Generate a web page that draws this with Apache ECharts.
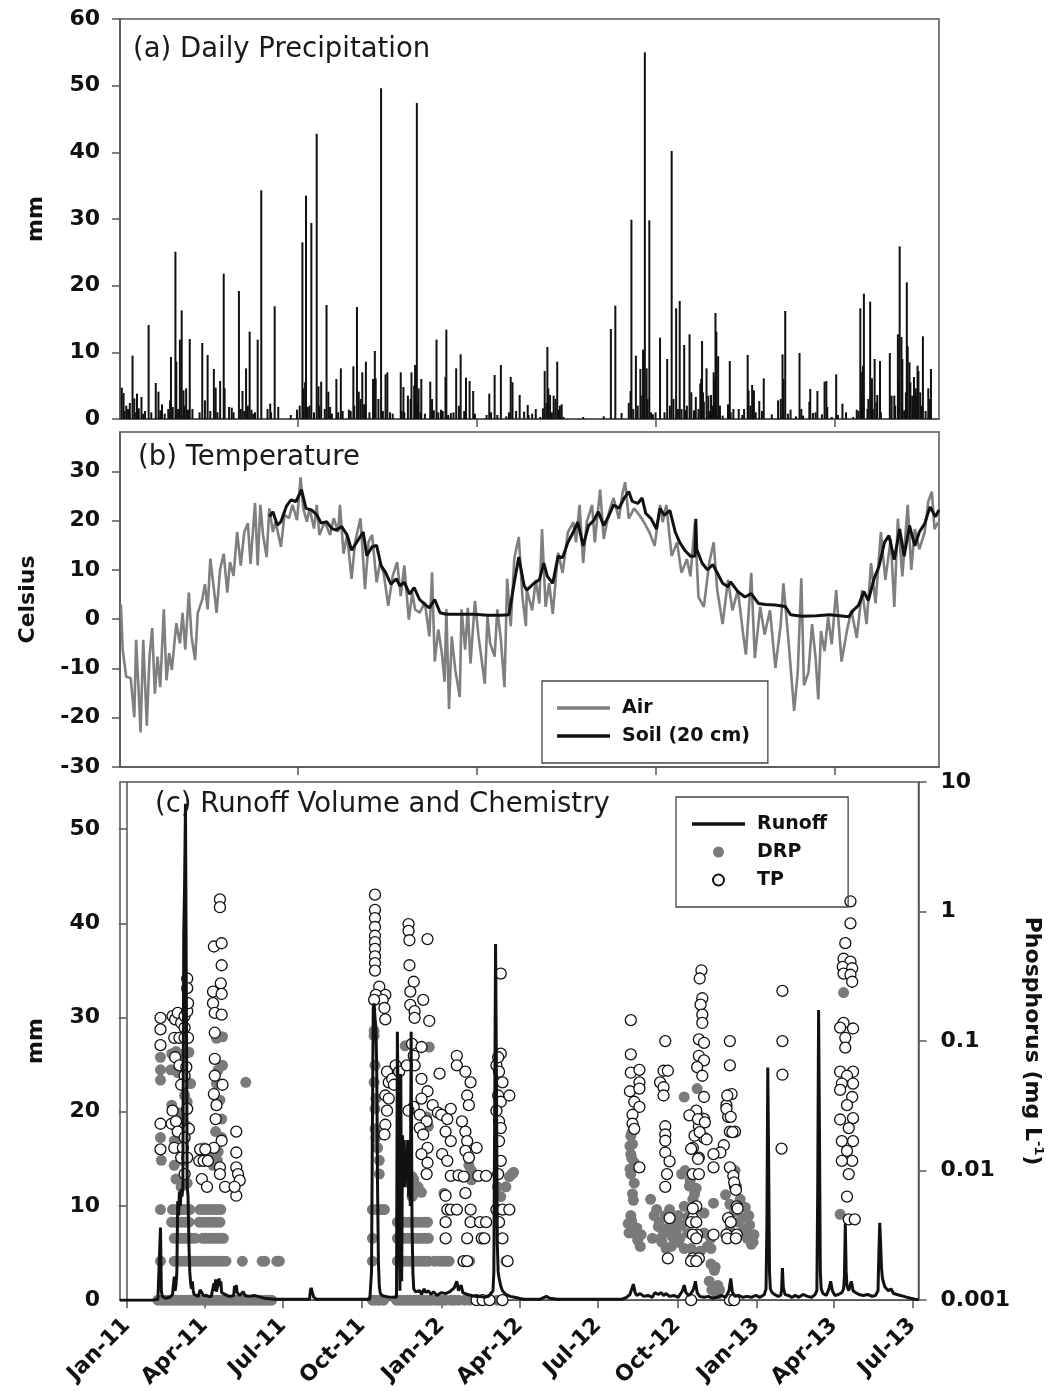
<!DOCTYPE html>
<html>
<head>
<meta charset="utf-8">
<script src="https://cdn.jsdelivr.net/npm/echarts@6/dist/echarts.min.js"></script>
<style>
  html, body { margin: 0; padding: 0; background: #fff; }
  #main { width: 1053px; height: 1391px; }
</style>
</head>
<body>
<div id="main"></div>
<script>
// day = days since 1 Jan 2011

// (a) daily precipitation, mm
var precipitation = [
  [3,4.7],[5,3.9],[15,9.5],[17,3.1],[20,3.8],[25,3.3],[33,14.1],[41,5.4],[44,4.1],[51,0.8],[58,9.3],[63,25.1],[64,8.6],
  [68,11.9],[70,16.3],[72,4.3],[75,4.6],[79,12.0],[82,1.5],[93,11.4],[99,9.6],[106,7.5],[108,4.7],[113,5.7],[117,21.8],
  [118,4.6],[123,1.8],[126,1.7],[134,19.2],[138,4.2],[142,7.6],[146,13.1],[148,1.4],[155,11.9],[159,34.3],[166,1.5],
  [169,2.3],[174,16.9],[178,1.8],[192,0.6],[199,1.4],[205,26.5],[206,4.6],[209,33.5],[211,1.8],[215,29.4],[221,42.8],
  [223,4.9],[226,5.6],[232,17.1],[234,4.1],[236,1.8],[243,6.0],[248,7.6],[257,1.4],[262,7.9],[266,16.8],[268,4.1],
  [272,7.0],[276,8.6],[286,10.2],[287,6.1],[293,49.6],[298,6.7],[300,7.0],[315,7.0],[318,4.8],[323,3.5],[327,7.0],
  [331,8.1],[333,47.4],[335,4.6],[338,6.0],[348,5.6],[350,3.0],[355,11.9],[360,1.4],[365,6.3],[366,13.4],[371,0.9],
  [377,7.6],[382,9.7],[388,6.2],[392,5.7],[396,4.2],[411,0.6],[414,3.8],[420,6.6],[427,8.1],[433,0.4],[438,6.3],
  [440,5.5],[448,3.6],[453,1.1],[457,2.1],[466,1.5],[471,0.3],[476,7.2],[479,10.8],[480,4.6],[482,3.6],[486,3.5],
  [488,3.0],[490,8.6],[493,2.0],[495,2.2],[497,0.3],[519,0.3],[542,0.4],[550,13.5],[555,17.0],[562,0.9],[570,2.4],
  [572,4.2],[573,29.9],[578,9.5],[583,7.5],[586,10.4],[588,55.0],[590,7.6],[593,29.8],[595,1.0],[597,0.7],[605,12.2],
  [613,9.0],[618,40.2],[623,16.6],[627,17.7],[629,1.5],[632,11.1],[634,1.3],[638,12.7],[643,1.3],[645,3.3],[650,5.3],
  [652,11.7],[654,2.6],[657,7.6],[659,3.5],[662,3.6],[664,2.0],[667,15.9],[668,13.1],[670,9.4],[675,0.5],[681,2.2],
  [683,8.7],[693,1.5],[699,1.5],[703,9.6],[704,4.3],[708,5.1],[710,4.3],[716,2.7],[721,6.1],[730,0.7],[737,2.8],
  [742,9.7],[745,16.2],[751,1.4],[757,0.4],[761,9.9],[763,1.5],[772,2.6],[773,4.5],[776,0.9],[781,4.2],[786,0.7],
  [789,5.6],[791,5.7],[797,0.3],[802,6.7],[809,2.3],[813,1.0],[821,0.3],[825,1.4],[829,16.6],[831,7.1],[833,18.8],
  [837,1.5],[838,3.0],[840,17.6],[842,6.1],[845,9.0],[848,3.6],[851,8.7],[862,9.9],[864,3.5],[867,3.5],[871,12.7],
  [873,25.9],[875,12.3],[878,1.3],[881,20.5],[882,10.9],[884,8.5],[889,6.3],[891,4.6],[893,8.0],[894,7.2],[896,4.0],
  [899,12.4],[905,4.6],[908,7.5],
  [6,1.2],[8,2.0],[10,1.5],[12,2.4],[19,1.0],[22,1.6],[27,0.8],[29,1.2],[36,1.0],[46,1.3],[48,2.2],[55,1.5],[57,2.8],
  [60,1.8],[66,1.5],[73,2.0],[77,1.4],[90,1.0],[96,2.8],[102,1.2],[110,1.0],[128,1.0],[136,1.5],[140,1.2],[144,2.0],
  [150,0.8],[152,1.0],[170,1.0],[202,2.0],[208,5.5],[213,2.0],[218,1.0],[224,2.0],[230,1.5],[238,0.8],[245,1.0],
  [250,1.2],[259,1.2],[263,2.0],[270,3.0],[274,2.2],[280,1.0],[284,6.0],[290,3.0],[295,1.2],[303,1.0],[306,0.8],
  [316,1.2],[319,1.0],[326,3.0],[330,5.0],[334,2.4],[337,1.0],[342,0.8],[352,1.3],[357,1.0],[362,1.2],[368,0.6],
  [374,1.0],[380,2.0],[386,1.2],[398,0.8],[416,1.0],[423,0.6],[436,1.0],[444,1.2],[458,0.6],[462,0.8],[474,1.6],
  [478,2.4],[484,1.0],[491,1.4],[575,1.5],[580,2.0],[585,3.5],[587,1.2],[591,3.0],[600,1.0],[610,1.0],[616,2.0],
  [620,3.0],[625,1.5],[635,2.0],[640,4.0],[648,1.5],[651,6.0],[653,4.0],[660,1.2],[665,7.0],[666,6.0],[672,2.0],
  [684,1.0],[687,1.5],[697,0.6],[706,2.0],[712,1.0],[719,1.2],[740,3.0],[743,6.0],[748,0.8],[765,0.5],[779,1.0],
  [792,1.8],[804,0.6],[827,1.2],[830,3.8],[832,8.0],[843,1.5],[847,2.5],[852,1.0],[868,2.0],[872,6.0],[876,9.0],
  [880,4.0],[885,5.5],[887,3.5],[890,2.0],[892,3.5],[898,2.0],[902,1.2],[906,3.0]
];

// (b) temperature, Celsius
var airTemp = [
  [2,3.0],[4,-6.2],[8,-11.7],[13,-12.0],[17,-19.9],[19,-4.2],[22,-15.1],[24,-23.0],[27,-4.2],[31,-21.6],[34,-7.6],
  [37,-1.8],[40,-15.1],[43,-7.6],[46,-13.8],[50,2.0],[53,-12.4],[56,-6.9],[59,-10.3],[64,-0.8],[68,-4.9],[71,1.3],
  [74,-6.2],[78,5.4],[81,-3.5],[85,-8.3],[88,1.3],[93,4.0],[96,7.1],[99,2.0],[102,12.3],[106,6.1],[109,1.3],[113,10.2],
  [117,13.3],[121,5.4],[124,11.6],[128,8.8],[132,17.7],[136,10.9],[140,17.7],[144,19.5],[147,11.2],[152,23.6],
  [155,10.9],[158,23.2],[161,17.1],[165,12.6],[168,22.5],[172,17.7],[175,19.8],[181,14.7],[185,21.2],[190,20.5],
  [194,23.2],[199,20.1],[203,28.8],[206,22.5],[210,19.8],[213,22.5],[218,18.4],[221,23.2],[224,17.1],[230,19.8],
  [236,17.1],[240,20.5],[245,17.7],[247,23.2],[251,13.3],[255,17.1],[260,8.2],[264,15.7],[270,20.5],[275,6.1],
  [279,15.7],[283,17.1],[288,7.5],[292,11.6],[296,9.2],[301,2.7],[306,8.8],[311,11.6],[315,4.7],[319,10.9],[324,-0.1],
  [328,5.4],[331,2.0],[336,1.3],[342,3.4],[347,-3.5],[350,9.5],[353,-8.6],[357,-2.1],[361,-6.9],[364,-12.7],[366,2.0],
  [369,-18.2],[372,-3.5],[376,-10.3],[381,-15.8],[383,2.0],[387,-6.2],[390,2.3],[393,-9.0],[398,3.7],[402,-3.5],
  [409,-13.1],[412,0.6],[415,-4.9],[420,-7.6],[423,2.0],[427,-4.2],[431,-13.8],[434,8.2],[438,-1.4],[442,12.3],
  [447,16.7],[451,4.7],[455,-1.4],[456,5.9],[462,1.8],[466,8.0],[470,3.2],[473,18.3],[477,2.5],[481,7.3],[485,1.1],
  [491,13.5],[496,9.4],[502,17.7],[508,19.7],[511,15.6],[515,23.2],[519,11.4],[523,19.7],[529,23.2],[532,15.6],
  [538,26.3],[542,16.3],[548,21.8],[553,24.6],[559,20.4],[563,25.6],[566,27.8],[570,20.4],[576,22.5],[582,21.1],
  [587,19.7],[593,17.7],[599,14.9],[605,23.2],[608,19.7],[612,23.2],[618,12.8],[624,15.6],[629,9.4],[635,12.2],
  [639,8.7],[644,19.7],[648,4.5],[654,2.5],[660,11.4],[665,15.6],[669,5.9],[675,-1.0],[681,8.0],[686,1.8],[692,5.9],
  [698,-3.1],[701,-7.2],[707,9.4],[711,-7.9],[717,2.5],[722,-3.1],[728,1.8],[734,-9.9],[740,-1.0],[743,7.3],
  [749,-5.1],[755,-18.6],[759,-10.8],[763,8.3],[766,-13.4],[771,-10.8],[775,-1.0],[779,-7.9],[782,-16.3],[785,-2.4],
  [789,-6.5],[793,0.4],[797,-5.1],[802,5.9],[808,-8.6],[814,-2.4],[819,1.8],[825,-3.8],[831,5.9],[836,-1.0],
  [841,11.4],[846,3.2],[852,17.7],[857,8.0],[863,16.3],[867,2.5],[871,20.4],[876,8.7],[882,23.2],[886,10.0],
  [890,18.3],[895,14.2],[901,17.7],[905,23.9],[909,25.9],[912,18.3],[916,19.7]
];
var soilTemp = [
  [168,20.8],[172,21.8],[177,19.1],[181,19.8],[187,22.9],[192,24.2],[198,23.9],[204,26.3],[209,22.5],[215,22.2],
  [221,21.2],[226,19.5],[232,19.8],[238,18.4],[243,18.1],[249,18.8],[255,17.1],[260,14.0],[266,15.7],[273,17.7],
  [277,12.9],[283,14.7],[288,15.0],[293,10.9],[298,9.5],[304,7.1],[310,8.2],[314,6.8],[319,7.5],[325,5.1],[330,6.4],
  [336,4.0],[342,3.0],[347,2.3],[353,4.0],[359,1.3],[366,1.0],[381,1.0],[397,1.0],[412,0.8],[427,0.8],[436,0.9],
  [442,7.5],[447,12.6],[453,6.8],[456,5.9],[464,7.3],[470,8.0],[475,11.4],[479,8.7],[485,7.3],[491,12.8],[496,12.5],
  [502,15.6],[508,17.7],[513,19.7],[519,14.9],[525,19.0],[531,20.1],[536,21.8],[542,19.0],[548,21.1],[553,23.2],
  [559,22.5],[565,24.6],[570,25.9],[574,23.9],[580,23.5],[585,24.6],[589,21.5],[595,20.4],[601,18.3],[605,22.5],
  [610,21.1],[616,22.1],[622,17.7],[627,15.6],[633,13.9],[639,12.8],[644,12.8],[645,20.4],[646,14.2],[652,11.4],
  [658,10.0],[664,11.1],[669,9.4],[675,7.3],[681,6.6],[684,7.6],[692,5.6],[700,4.5],[707,5.2],[715,3.2],[723,3.0],
  [734,2.9],[745,2.6],[751,0.9],[764,0.6],[780,0.7],[795,0.9],[806,0.7],[816,0.5],[821,1.8],[827,2.8],[833,5.6],
  [838,3.8],[844,8.0],[850,10.8],[856,15.6],[861,17.0],[867,12.1],[873,18.3],[878,12.8],[884,19.0],[890,14.9],
  [895,17.7],[901,19.4],[907,22.8],[913,20.8],[917,22.2]
];

// (c) runoff, mm
var runoff = [
  [-8,0],[30,0],[36,0.1],[38,0.2],[39,7.7],[40,1.0],[41,0.4],[45,0.2],[50,0.3],[53,0.6],[55,2.5],[56,1.0],[57,1.6],
  [58,3.0],[59,10.5],[60,9.0],[61,11.5],[62,10.0],[63,11.8],[64,11.0],[65,12.0],[66,38.9],[67,44.2],[68,52.7],
  [69,33.0],[70,12.0],[71,11.0],[72,6.0],[73,3.0],[74,1.8],[75,1.2],[76,2.0],[77,1.0],[78,0.6],[80,0.5],[83,0.4],
  [85,1.1],[87,0.9],[89,0.5],[92,0.5],[95,0.4],[98,0.4],[100,0.6],[101,1.8],[102,1.0],[103,2.2],[104,0.9],[106,0.8],
  [107,2.3],[108,1.5],[109,2.0],[110,0.8],[112,0.6],[116,0.5],[120,0.4],[124,0.5],[125,1.5],[126,1.2],[127,1.6],
  [128,0.8],[131,0.5],[135,0.9],[136,1.0],[137,0.5],[142,0.4],[148,0.5],[152,0.4],[156,0.3],[160,0.2],[170,0.1],
  [200,0.1],[212,0.1],[213,1.0],[214,1.3],[215,0.9],[217,0.3],[220,0.1],[282,0.1],[283,0.2],[284,3.0],[285,18.0],
  [286,31.0],[287,31.5],[288,30.0],[289,29.0],[290,25.0],[291,12.0],[292,4.0],[293,1.5],[294,0.8],[296,0.5],
  [300,0.4],[305,0.3],[310,0.3],[313,0.3],[314,28.5],[316,28.5],[317,1.0],[318,24.0],[319,2.0],[320,17.5],
  [321,14.0],[322,17.0],[323,12.0],[324,16.0],[325,13.0],[326,17.0],[327,11.0],[328,15.0],[329,10.0],[330,28.5],
  [331,8.0],[332,3.0],[333,1.2],[335,0.9],[337,0.7],[340,1.0],[342,0.6],[345,1.2],[347,0.8],[350,1.0],[353,0.6],
  [356,0.9],[360,0.5],[365,0.8],[370,0.7],[375,0.9],[380,1.3],[383,2.0],[385,1.0],[388,1.6],[390,0.8],[395,0.6],
  [400,0.5],[405,0.4],[410,0.4],[415,0.3],[420,0.4],[425,1.0],[426,3.0],[427,20.0],[428,37.8],[429,24.0],[430,6.0],
  [431,3.0],[432,2.4],[434,1.5],[436,1.0],[440,0.6],[445,0.4],[450,0.3],[455,0.2],[460,0.1],[480,0.1],[487,0.4],
  [489,0.5],[491,0.2],[500,0.1],[550,0.1],[575,0.1],[580,0.3],[584,0.6],[588,1.7],[590,0.8],[592,0.5],[596,0.7],
  [600,0.4],[605,0.5],[610,0.3],[613,0.8],[615,1.0],[617,0.6],[620,0.8],[623,0.5],[626,0.7],[630,0.4],[635,0.5],
  [640,0.3],[645,1.0],[647,1.6],[649,0.8],[652,0.5],[655,0.7],[658,1.2],[660,2.0],[662,0.8],[665,0.4],[670,0.3],
  [675,0.4],[680,0.2],[685,0.3],[690,0.5],[695,0.3],[699,1.0],[701,2.3],[703,0.8],[706,0.4],[710,0.5],[715,0.3],
  [720,0.4],[725,0.3],[730,0.5],[735,0.3],[740,0.6],[742,1.2],[743,8.0],[744,24.7],[745,15.0],[746,3.0],[747,1.2],
  [749,0.8],[752,0.6],[756,0.4],[759,0.5],[760,1.0],[761,3.4],[762,1.4],[764,0.6],[768,0.5],[772,0.3],[776,0.5],
  [780,0.3],[785,0.6],[790,0.4],[795,0.3],[799,0.6],[801,1.0],[802,12.0],[803,30.8],[804,18.0],[805,3.0],[806,1.2],
  [808,0.7],[812,0.5],[815,1.2],[817,2.0],[819,1.0],[822,0.5],[826,0.6],[830,0.8],[832,1.2],[833,2.5],[834,8.1],
  [835,3.0],[836,1.5],[838,1.0],[841,2.0],[843,1.0],[846,0.8],[850,0.6],[855,0.5],[860,0.6],[865,0.4],[869,0.5],
  [872,1.0],[873,5.0],[874,8.2],[875,6.0],[876,3.5],[877,2.4],[878,2.0],[880,1.4],[882,1.6],[884,1.0],[887,1.2],
  [890,0.7],[894,0.6],[898,0.5],[902,0.4],[906,0.3],[910,0.2],[915,0.1],[919,0.05]
];

// (c) dissolved reactive phosphorus, mg/L
var drp = [
  [36,0.001],[40,0.001],[44,0.001],[48,0.001],[52,0.001],[56,0.001],[60,0.001],[64,0.001],[68,0.001],[72,0.001],
  [76,0.001],[80,0.001],[84,0.001],[88,0.001],[92,0.001],[96,0.001],[100,0.001],[104,0.001],[108,0.001],[112,0.001],
  [116,0.001],[120,0.001],[124,0.001],[128,0.001],[132,0.001],[136,0.001],[140,0.001],[144,0.001],[148,0.001],
  [152,0.001],[156,0.001],[160,0.001],[164,0.001],[168,0.001],
  [39,0.002],[55,0.002],[59,0.002],[63,0.002],[67,0.002],[71,0.002],[75,0.002],[79,0.002],[83,0.002],[87,0.002],
  [91,0.002],[95,0.002],[99,0.002],[103,0.002],[107,0.002],[111,0.002],[115,0.002],[134,0.002],[157,0.002],
  [160,0.002],[174,0.002],[177,0.002],
  [55,0.003],[59,0.003],[63,0.003],[67,0.003],[71,0.003],[75,0.003],[79,0.003],[88,0.003],[92,0.003],[96,0.003],
  [100,0.003],[104,0.003],[108,0.003],[112,0.003],
  [52,0.004],[56,0.004],[60,0.004],[64,0.004],[68,0.004],[72,0.004],[84,0.004],[88,0.004],[92,0.004],[96,0.004],
  [100,0.004],[104,0.004],[108,0.004],
  [39,0.005],[53,0.005],[57,0.005],[61,0.005],[65,0.005],[69,0.005],[73,0.005],[85,0.005],[89,0.005],[93,0.005],
  [97,0.005],[101,0.005],[105,0.005],[109,0.005],
  [39,0.075],[39,0.06],[39,0.05],[39,0.018],[40,0.012],[52,0.08],[57,0.083],[62,0.079],[68,0.08],[72,0.082],
  [51,0.06],[59,0.057],[68,0.05],[74,0.047],[67,0.038],[70,0.034],[52,0.032],[55,0.017],[67,0.018],[57,0.0086],
  [63,0.0075],[70,0.008],[60,0.028],[64,0.025],[70,0.022],[55,0.011],[65,0.012],[104,0.105],[106,0.06],[104,0.047],
  [108,0.035],[110,0.025],[103,0.02],[110,0.018],[106,0.014],[111,0.108],[111,0.065],[90,0.015],[96,0.014],
  [86,0.0146],[100,0.0138],[95,0.012],[100,0.011],[105,0.012],[138,0.048],
  [287,0.12],[287,0.11],[288,0.065],[287,0.048],[289,0.036],[288,0.03],[288,0.021],[289,0.018],[291,0.015],
  [293,0.012],[293,0.0094],[285,0.005],[290,0.005],[295,0.005],[299,0.005],[285,0.003],[285,0.002],[285,0.001],
  [289,0.001],[293,0.001],[298,0.001],[323,0.092],[351,0.09],[331,0.009],[333,0.0085],[331,0.0063],[334,0.0067],
  [325,0.0095],[338,0.0075],[342,0.0068],
  [314,0.004],[319,0.004],[323,0.004],[327,0.004],[331,0.004],[335,0.004],[338,0.004],[342,0.004],[346,0.004],
  [349,0.004],
  [314,0.003],[318,0.003],[322,0.003],[326,0.003],[330,0.003],[334,0.003],[338,0.003],[342,0.003],[346,0.003],
  [350,0.003],
  [314,0.002],[318,0.002],[322,0.002],[326,0.002],[330,0.002],[334,0.002],[338,0.002],[342,0.002],[346,0.002],
  [350,0.002],[357,0.002],[362,0.002],[366,0.002],[370,0.002],[374,0.002],[390,0.002],[394,0.002],[398,0.002],
  [440,0.002],
  [313,0.001],[317,0.001],[321,0.001],[325,0.001],[329,0.001],[333,0.001],[337,0.001],[341,0.001],[345,0.001],
  [349,0.001],[353,0.001],[358,0.001],[362,0.001],[366,0.001],[370,0.001],[376,0.001],[380,0.001],[385,0.001],
  [392,0.001],[398,0.001],[430,0.001],
  [348,0.026],[350,0.022],[368,0.0067],[397,0.011],[400,0.01],[400,0.0085],[444,0.009],[449,0.0097],[447,0.0094],
  [440,0.0075],[434,0.0063],[430,0.0075],
  [585,0.0185],[587,0.016],[585,0.0134],[589,0.0115],[585,0.0094],[589,0.008],[587,0.0066],[585,0.0045],[587,0.0033],
  [593,0.0029],[596,0.0026],[583,0.0033],[586,0.0195],[584,0.0155],[586,0.0125],[584,0.0103],[588,0.0059],
  [586,0.0041],[592,0.0036],[597,0.0032],[582,0.0039],
  [647,0.037],[644,0.0094],[659,0.0066],[617,0.0037],[623,0.0033],[628,0.0036],[636,0.0033],[644,0.0038],[647,0.0053],
  [651,0.0044],[621,0.0028],[632,0.0026],[640,0.0028],[647,0.0025],[670,0.0033],[674,0.0026],[678,0.0019],
  [676,0.0014],[679,0.0012],[683,0.0018],[678,0.003],[670,0.0047],[681,0.0056],[662,0.043],[666,0.0024],[685,0.0011],
  [651,0.0033],[655,0.0025],[711,0.0056],[715,0.0043],[723,0.0038],[727,0.0028],[719,0.0033],[708,0.0075],[706,0.01],
  [648,0.01],[661,0.0073],[653,0.0076],[678,0.0025],[682,0.0017],[686,0.0013],[688,0.0012],[666,0.026],
  [608,0.006],[612,0.0045],[615,0.005],[618,0.004],[625,0.0045],[630,0.005],[635,0.004],[640,0.0045],[610,0.003],
  [620,0.003],[626,0.0025],[633,0.0031],[638,0.0035],[642,0.003],[654,0.0084],[657,0.006],[660,0.005],
  [695,0.0065],[700,0.0055],[705,0.0048],[710,0.004],[716,0.0035],[720,0.003],[725,0.0027],[700,0.0035],[712,0.006],
  [718,0.0052],[722,0.0045],[728,0.0032],[715,0.0053],[717,0.0035],
  [832,0.237],[828,0.0046]
];

// (c) total phosphorus, mg/L
var tp = [
  [39,0.151],[39,0.123],[39,0.093],[39,0.023],[39,0.0146],
  [53,0.156],[56,0.147],[59,0.165],[63,0.138],[67,0.156],[70,0.17],[70,0.304],[70,0.256],[71,0.196],[67,0.127],
  [55,0.106],[61,0.106],[67,0.106],[71,0.106],[56,0.075],[61,0.065],[69,0.063],[67,0.054],[63,0.046],[70,0.03],
  [53,0.029],[52,0.023],[57,0.024],[59,0.02],[72,0.021],[67,0.018],[55,0.015],[65,0.015],[63,0.0126],[70,0.0126],
  [67,0.0094],
  [108,1.24],[108,1.08],[101,0.537],[110,0.569],[110,0.385],[100,0.241],[109,0.279],[110,0.231],[100,0.196],
  [102,0.165],[110,0.16],[102,0.116],[102,0.073],[102,0.054],[111,0.046],[101,0.039],[104,0.032],[103,0.025],
  [110,0.017],[101,0.015],[85,0.0146],[91,0.0146],[84,0.0119],[89,0.0119],[94,0.0119],[87,0.0086],[93,0.0075],
  [108,0.0106],[108,0.0094],[114,0.0075],[127,0.02],[127,0.0138],[127,0.0106],[129,0.0094],[131,0.0084],
  [127,0.0064],[125,0.0075],
  [288,1.35],[288,1.03],[288,0.89],[288,0.76],[288,0.65],[288,0.58],[288,0.515],[288,0.45],[288,0.40],[288,0.35],
  [293,0.263],[300,0.227],[289,0.227],[297,0.208],[287,0.208],[299,0.18],[300,0.147],[302,0.058],[304,0.048],
  [308,0.051],[300,0.038],[304,0.036],[302,0.029],[300,0.0226],[299,0.019],[312,0.065],[310,0.046],[316,0.058],
  [327,0.80],[327,0.71],[328,0.60],[349,0.613],[328,0.385],[333,0.287],[329,0.241],[344,0.208],[329,0.19],[334,0.17],
  [334,0.151],[351,0.143],[331,0.095],[342,0.09],[333,0.077],[334,0.065],[325,0.065],[342,0.051],[349,0.041],
  [355,0.032],[342,0.036],[333,0.031],[340,0.027],[327,0.029],[348,0.024],[340,0.0213],[344,0.019],[349,0.015],
  [342,0.0134],[349,0.0115],[348,0.0094],[361,0.028],[363,0.056],
  [365,0.027],[376,0.03],[372,0.025],[370,0.02],[376,0.0169],[366,0.0134],[372,0.0119],[376,0.0091],[370,0.0064],
  [372,0.005],[376,0.005],[370,0.004],[370,0.003],[383,0.005],[385,0.0092],[393,0.0067],[391,0.009],[383,0.077],
  [383,0.065],[393,0.058],[399,0.048],[395,0.038],[397,0.032],[389,0.024],[393,0.02],[395,0.0169],[406,0.015],
  [393,0.0142],[397,0.0126],[399,0.005],[399,0.004],[410,0.004],[417,0.004],[395,0.003],[412,0.003],[415,0.003],
  [391,0.002],[395,0.002],[408,0.0091],[417,0.0091],[406,0.001],[413,0.001],[421,0.001],
  [434,0.332],[434,0.08],[429,0.065],[432,0.058],[436,0.048],[431,0.038],[434,0.034],[444,0.038],[429,0.029],
  [432,0.024],[434,0.0213],[432,0.0169],[434,0.0119],[431,0.0094],[429,0.005],[436,0.005],[444,0.005],[432,0.004],
  [436,0.003],[442,0.002],[436,0.001],[431,0.075],
  [585,0.145],[585,0.079],[585,0.057],[595,0.06],[584,0.041],[595,0.048],[595,0.043],[589,0.034],[595,0.031],
  [587,0.027],[587,0.023],[589,0.021],[595,0.0106],
  [625,0.10],[623,0.059],[628,0.059],[619,0.048],[623,0.044],[623,0.038],[625,0.022],[625,0.019],[625,0.017],
  [625,0.0138],[630,0.0118],[627,0.0094],[625,0.0075],[630,0.0043],[628,0.0021],
  [667,0.352],[665,0.304],[668,0.214],[666,0.191],[668,0.16],[668,0.138],[664,0.103],[670,0.097],[664,0.077],
  [670,0.071],[662,0.063],[668,0.054],[670,0.037],[661,0.029],[670,0.025],[664,0.022],[670,0.0179],[657,0.015],
  [664,0.0126],[657,0.0094],[664,0.0094],[661,0.0053],[657,0.0043],[662,0.0032],[657,0.0032],[657,0.0021],
  [664,0.0021],[655,0.001],[653,0.0267],[663,0.025],[671,0.0236],[659,0.0186],[665,0.0198],[673,0.0174],
  [655,0.0147],[663,0.0123],[657,0.0051],[655,0.004],[661,0.004],[661,0.003],[655,0.002],[661,0.002],
  [700,0.10],[700,0.065],[702,0.039],[696,0.032],[698,0.026],[700,0.02],[706,0.02],[693,0.0157],[689,0.0138],
  [681,0.0134],[681,0.0106],[700,0.0106],[704,0.0091],[706,0.0075],[708,0.0053],[698,0.0043],[681,0.0032],
  [696,0.0032],[708,0.0032],[700,0.001],[705,0.001],[697,0.038],[696,0.03],[701,0.026],[703,0.0198],[705,0.0081],
  [707,0.0071],[709,0.0051],[701,0.004],[697,0.003],[707,0.003],
  [761,0.244],[761,0.1],[761,0.055],[760,0.0148],
  [840,1.2],[840,0.81],[834,0.57],[832,0.432],[840,0.41],[831,0.374],[842,0.365],[832,0.332],[840,0.325],[842,0.287],
  [832,0.138],[843,0.125],[828,0.127],[834,0.106],[834,0.089],[828,0.058],[843,0.058],[836,0.054],[830,0.047],
  [843,0.047],[842,0.037],[828,0.042],[836,0.032],[843,0.0254],[828,0.0248],[838,0.0213],[843,0.0169],[830,0.0169],
  [836,0.0142],[842,0.0119],[830,0.0119],[838,0.0094],[836,0.0063],[838,0.0042],[845,0.0042]
];

// axis ticks
var precipTicks = [0, 10, 20, 30, 40, 50, 60];
var celsiusTicks = [-30, -20, -10, 0, 10, 20, 30];
var runoffTicks = [0, 10, 20, 30, 40, 50];
var dayTicks = [200, 400, 600, 800];
var quarterDays = [0, 90, 181, 273, 365, 456, 547, 639, 731, 821, 912];
var quarterLabels = ['Jan-11', 'Apr-11', 'Jul-11', 'Oct-11', 'Jan-12', 'Apr-12', 'Jul-12', 'Oct-12', 'Jan-13', 'Apr-13', 'Jul-13'];

var FONT = 'DejaVu Sans';
var AX = '#555';
var INK = '#111';
var LINE_ICON = 'path://M0,0H60V4H0Z';

function yAxisBase(grid, ticks, name, gap) {
  return {
    gridIndex: grid, type: 'value', min: ticks[0],
    name: name, nameLocation: 'middle', nameGap: gap, nameRotate: 90,
    nameTextStyle: { fontFamily: FONT, fontSize: 22, fontWeight: 'bold', color: INK },
    axisLine: { show: true, lineStyle: { color: AX, width: 1.5 } },
    axisTick: { show: true, length: 8, customValues: ticks, lineStyle: { color: AX, width: 1.5 } },
    axisLabel: { customValues: ticks, fontFamily: FONT, fontSize: 22, fontWeight: 'bold', color: INK, margin: 20 },
    splitLine: { show: false }
  };
}

function xAxisBase(grid, min, max) {
  return {
    gridIndex: grid, type: 'value', min: min, max: max,
    axisLine: { show: true, onZero: false, lineStyle: { color: AX, width: 1.5 } },
    axisTick: { show: true, length: 8, customValues: dayTicks, lineStyle: { color: AX, width: 1.5 } },
    axisLabel: { show: false },
    splitLine: { show: false }
  };
}

var chart = echarts.init(document.getElementById('main'));

var yA = yAxisBase(0, precipTicks, 'mm', 73); yA.max = 60;
var yB = yAxisBase(1, celsiusTicks, 'Celsius', 81); yB.max = 38;
var yC = yAxisBase(2, runoffTicks, 'mm', 73); yC.max = 55;

var xC = xAxisBase(2, -8, 919);
xC.axisTick.customValues = quarterDays;
xC.axisLabel = {
  show: true, customValues: quarterDays, rotate: 45, margin: 22,
  fontFamily: FONT, fontSize: 22, fontWeight: 'bold', color: INK,
  formatter: function (v) {
    var i = quarterDays.indexOf(v);
    return i >= 0 ? quarterLabels[i] : '';
  }
};

var titleStyle = { fontFamily: FONT, fontSize: 27.5, fontWeight: 'normal', color: '#1a1a1a', lineHeight: 28 };
var legendText = { fontFamily: FONT, fontSize: 19, fontWeight: 'bold', color: INK, lineHeight: 28, padding: [0, 0, 0, 7] };

var option = {
  animation: false,
  backgroundColor: '#fff',
  title: [
    { text: '(a) Daily Precipitation', left: 133, top: 36, padding: 0, textStyle: titleStyle },
    { text: '(b) Temperature', left: 138, top: 444, padding: 0, textStyle: titleStyle },
    { text: '(c) Runoff Volume and Chemistry', left: 155, top: 791, padding: 0, textStyle: titleStyle }
  ],
  legend: [
    {
      data: [{ name: 'Air', icon: LINE_ICON }, { name: 'Soil (20 cm)', icon: LINE_ICON }],
      orient: 'vertical', left: 542, top: 681,
      padding: [13, 18, 13, 15], itemWidth: 53, itemHeight: 11, itemGap: 0,
      borderColor: '#444', borderWidth: 1.3, selectedMode: false, textStyle: legendText
    },
    {
      data: [{ name: 'Runoff', icon: LINE_ICON }, { name: 'DRP', icon: 'circle' }, { name: 'TP', icon: 'circle' }],
      orient: 'vertical', left: 676, top: 797,
      padding: [13, 21, 13, 16], itemWidth: 53, itemHeight: 11, itemGap: 0,
      borderColor: '#444', borderWidth: 1.3, selectedMode: false, textStyle: legendText
    }
  ],
  grid: [
    { left: 120, top: 19, width: 819, height: 400, show: true, borderColor: AX, borderWidth: 1.5, backgroundColor: 'transparent' },
    { left: 120, top: 432, width: 819, height: 335, show: true, borderColor: AX, borderWidth: 1.5, backgroundColor: 'transparent' },
    { left: 120, top: 782, width: 819, height: 525, show: true, borderColor: AX, borderWidth: 1.5, backgroundColor: 'transparent' }
  ],
  xAxis: [xAxisBase(0, 1, 917), xAxisBase(1, 1, 917), xC],
  yAxis: [
    yA, yB, yC,
    {
      gridIndex: 2, type: 'log', logBase: 10, min: 0.001, max: 10, position: 'right',
      name: '{n|Phosphorus (mg L}{s|-1}{n|)}', nameLocation: 'middle', nameGap: 75, nameRotate: -90,
      nameTextStyle: {
        rich: {
          n: { fontFamily: FONT, fontSize: 22, fontWeight: 'bold', color: INK, lineHeight: 26 },
          s: { fontFamily: FONT, fontSize: 13, fontWeight: 'bold', color: INK, verticalAlign: 'top', lineHeight: 26 }
        }
      },
      axisLine: { show: true, lineStyle: { color: AX, width: 1.5 } },
      axisTick: { show: true, length: 8, lineStyle: { color: AX, width: 1.5 } },
      axisLabel: {
        fontFamily: FONT, fontSize: 22, fontWeight: 'bold', color: INK, margin: 22,
        formatter: function (v) { return String(parseFloat(Number(v).toPrecision(2))); }
      },
      minorTick: { show: false },
      splitLine: { show: false }
    }
  ],
  series: [
    {
      name: 'Precipitation', type: 'bar', xAxisIndex: 0, yAxisIndex: 0,
      data: precipitation, barWidth: 2, itemStyle: { color: INK }
    },
    {
      name: 'Air', type: 'line', xAxisIndex: 1, yAxisIndex: 1, data: airTemp,
      showSymbol: false, symbol: 'none', lineStyle: { color: '#7f7f7f', width: 2.6 }, itemStyle: { color: '#7f7f7f' }
    },
    {
      name: 'Soil (20 cm)', type: 'line', xAxisIndex: 1, yAxisIndex: 1, data: soilTemp,
      showSymbol: false, symbol: 'none', lineStyle: { color: INK, width: 3 }, itemStyle: { color: INK }
    },
    {
      name: 'Runoff', type: 'line', xAxisIndex: 2, yAxisIndex: 2, data: runoff,
      showSymbol: false, symbol: 'none', lineStyle: { color: INK, width: 3 }, itemStyle: { color: INK }
    },
    {
      name: 'DRP', type: 'scatter', xAxisIndex: 2, yAxisIndex: 3, data: drp,
      symbol: 'circle', symbolSize: 11, itemStyle: { color: '#7a7a7a', opacity: 1 }
    },
    {
      name: 'TP', type: 'scatter', xAxisIndex: 2, yAxisIndex: 3, data: tp,
      symbol: 'circle', symbolSize: 11, itemStyle: { color: '#ffffff', borderColor: INK, borderWidth: 1.3, opacity: 1 }
    }
  ]
};

chart.setOption(option);
</script>
</body>
</html>
